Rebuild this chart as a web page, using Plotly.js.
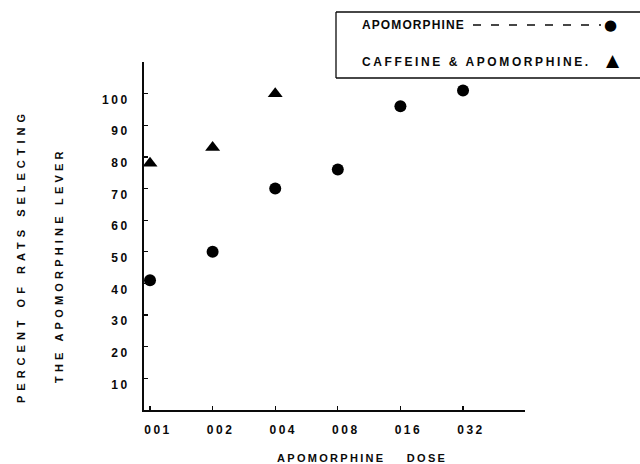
<!DOCTYPE html>
<html>
<head>
<meta charset="utf-8">
<script src="https://cdn.plot.ly/plotly-3.0.1.min.js"></script>
<style>html,body{margin:0;padding:0;background:#fff;}#chart{width:640px;height:464px;}</style>
</head>
<body>
<div id="chart"></div>
<script>
// ---- data ----
const doses = ['001', '002', '004', '008', '016', '032'];
const apomorphinePct = [41, 50, 70, 76, 96, 101];
const caffeineDoses = ['001', '002', '004'];
const caffeineApomorphinePct = [78, 83, 100];
const yTickValues = [10, 20, 30, 40, 50, 60, 70, 80, 90, 100];
const yTickLabels = ['10', '20', '30', '40', '50', '60', '70', '80', '90', '100'];
const legendLabels = ['APOMORPHINE', 'CAFFEINE &amp; APOMORPHINE.'];
const xTitle = 'APOMORPHINE&nbsp;&nbsp;&nbsp;&nbsp;DOSE';
const yTitleLines = ['PERCENT OF RATS SELECTING', 'THE APOMORPHINE LEVER'];

// ---- layout helpers (pixel -> paper) ----
const L = 144, R = 525, T = 62, B = 410;
const px = x => (x - L) / (R - L);
const py = y => (B - y) / (B - T);
const FONT = '"Liberation Sans", Arial, sans-serif';
const INK = '#0a0a0a';
const sp = (t, ls) => `<span style="letter-spacing:${ls}px">${t}</span>`;
const f = (size) => ({size: size, family: FONT, color: INK, weight: 'bold'});

const traces = [
  {
    type: 'scatter', mode: 'markers', name: 'APOMORPHINE',
    x: doses, y: apomorphinePct,
    marker: {symbol: 'circle', size: 12, color: '#000'},
    cliponaxis: false, showlegend: false
  },
  {
    type: 'scatter', mode: 'markers', name: 'CAFFEINE & APOMORPHINE',
    x: caffeineDoses, y: caffeineApomorphinePct,
    marker: {symbol: 'triangle-up', size: 13, color: '#000'},
    cliponaxis: false, showlegend: false
  }
];

const layout = {
  width: 640, height: 464,
  margin: {l: L, r: 640 - R, t: T, b: 464 - B, pad: 0},
  paper_bgcolor: '#fff', plot_bgcolor: '#fff',
  font: {family: FONT, color: INK, size: 12},
  showlegend: false,
  xaxis: {
    type: 'category', categoryorder: 'array', categoryarray: doses,
    range: [-0.096, 5.99],
    showgrid: false, zeroline: false,
    showline: true, linecolor: INK, linewidth: 1.6,
    ticks: 'inside', ticklen: 4, tickwidth: 1.3, tickcolor: INK,
    tickmode: 'array', tickvals: doses, ticktext: doses.map(d => sp(d, 2.5)),
    tickfont: f(12),
    ticklabelstandoff: 8, ticklabelshift: 8,
    fixedrange: true
  },
  yaxis: {
    range: [0, 110],
    showgrid: false, zeroline: false,
    showline: true, linecolor: INK, linewidth: 2,
    ticks: 'inside', ticklen: 4, tickwidth: 1.3, tickcolor: INK,
    tickmode: 'array', tickvals: yTickValues, ticktext: yTickLabels.map(t => sp(t, 2.5)),
    tickfont: f(12),
    ticklabelstandoff: 10, ticklabelshift: 6,
    fixedrange: true
  },
  annotations: [
    {text: sp(yTitleLines[0], 5), xref: 'paper', yref: 'paper', x: px(21), y: py(256),
     textangle: -90, showarrow: false, xanchor: 'center', yanchor: 'middle', font: f(11)},
    {text: sp(yTitleLines[1], 4.2), xref: 'paper', yref: 'paper', x: px(59), y: py(265),
     textangle: -90, showarrow: false, xanchor: 'center', yanchor: 'middle', font: f(11)},
    {text: sp(xTitle, 2.3), xref: 'paper', yref: 'paper', x: px(362), y: py(458),
     showarrow: false, xanchor: 'center', yanchor: 'middle', font: f(11)},
    {text: sp(legendLabels[0], 1.1), xref: 'paper', yref: 'paper', x: px(360), y: py(25),
     showarrow: false, xanchor: 'left', yanchor: 'middle', font: f(12)},
    {text: '●', xref: 'paper', yref: 'paper', x: px(610), y: py(25),
     showarrow: false, xanchor: 'center', yanchor: 'middle',
     font: {size: 15, family: '"DejaVu Sans", sans-serif', color: '#000'}},
    {text: sp(legendLabels[1], 2.6), xref: 'paper', yref: 'paper', x: px(360), y: py(61.5),
     showarrow: false, xanchor: 'left', yanchor: 'middle', font: f(12)},
    {text: '▲', xref: 'paper', yref: 'paper', x: px(613), y: py(60),
     showarrow: false, xanchor: 'center', yanchor: 'middle',
     font: {size: 17, family: '"DejaVu Sans", sans-serif', color: '#000'}}
  ],
  shapes: [
    {type: 'line', xref: 'paper', yref: 'paper', x0: px(473), x1: px(601), y0: py(25), y1: py(25),
     line: {color: INK, width: 1.4, dash: '8px,10px'}},
    {type: 'line', xref: 'paper', yref: 'paper', x0: px(336), x1: px(660), y0: py(12), y1: py(12),
     line: {color: INK, width: 1.3}},
    {type: 'line', xref: 'paper', yref: 'paper', x0: px(336), x1: px(660), y0: py(78), y1: py(78),
     line: {color: INK, width: 1.3}},
    {type: 'line', xref: 'paper', yref: 'paper', x0: px(336), x1: px(336), y0: py(12), y1: py(78),
     line: {color: INK, width: 1.3}}
  ]
};

Plotly.newPlot('chart', traces, layout, {staticPlot: true, displayModeBar: false});
</script>
</body>
</html>
